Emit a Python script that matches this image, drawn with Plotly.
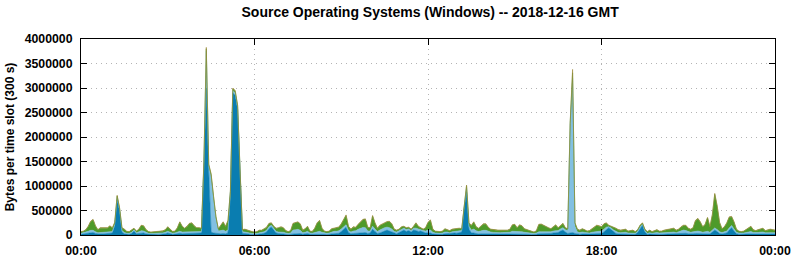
import pandas as pd
import plotly.graph_objects as go

# ---- data (values in thousands of bytes per 5-minute slot) ----
UNIT = 1000
START = "2018-12-16 00:00"
END = "2018-12-17 00:00"
N_SLOTS = 289

dark_blue = [
    15, 20, 25, 35, 45, 50, 30, 20, 20, 20, 25, 20, 30, 40, 190, 720, 490, 60, 25, 15,
    15, 30, 80, 25, 30, 45, 40, 20, 15, 12, 12, 15, 12, 15, 18, 25, 40, 25, 15, 18,
    25, 35, 25, 25, 30, 30, 30, 25, 25, 25, 40, 1400, 3000, 1300, 60, 40, 30, 20, 25, 30,
    25, 40, 820, 2900, 2850, 2560, 1270, 35, 30, 20, 15, 12, 10, 12, 20, 25, 35, 60, 130, 165,
    100, 40, 30, 30, 25, 15, 12, 15, 30, 30, 35, 30, 15, 20, 30, 15, 15, 20, 25, 30,
    20, 15, 12, 15, 25, 30, 30, 35, 70, 120, 160, 50, 25, 30, 30, 35, 40, 45, 50, 30,
    40, 120, 70, 30, 40, 60, 90, 100, 80, 60, 30, 25, 50, 80, 100, 70, 90, 60, 100, 90,
    70, 80, 60, 40, 40, 40, 20, 15, 12, 12, 15, 25, 30, 20, 30, 40, 35, 50, 60, 540,
    880, 120, 40, 40, 25, 20, 25, 25, 25, 20, 20, 18, 18, 18, 18, 20, 20, 20, 20, 30,
    30, 25, 30, 25, 20, 18, 15, 12, 10, 15, 25, 25, 25, 20, 25, 30, 40, 40, 50, 80,
    100, 60, 30, 40, 50, 30, 20, 15, 20, 18, 15, 15, 20, 25, 30, 30, 30, 60, 110, 150,
    110, 60, 30, 20, 18, 20, 20, 15, 15, 18, 15, 50, 140, 200, 60, 15, 20, 15, 18, 20,
    15, 15, 18, 20, 20, 20, 25, 18, 25, 35, 40, 35, 25, 20, 25, 30, 30, 25, 20, 25,
    30, 20, 60, 100, 70, 30, 20, 25, 40, 100, 150, 80, 25, 15, 12, 15, 20, 25, 30, 20,
    18, 20, 22, 25, 18, 18, 20, 20, 18,
]

light_blue = [
    20, 25, 30, 40, 50, 45, 35, 25, 30, 30, 30, 30, 35, 30, 30, 50, 40, 30, 25, 20,
    20, 25, 25, 20, 30, 40, 40, 30, 20, 20, 20, 20, 20, 22, 25, 30, 35, 30, 22, 25,
    35, 40, 35, 35, 40, 45, 45, 40, 35, 35, 30, 50, 760, 110, 1130, 700, 290, 60, 60, 70,
    50, 60, 40, 50, 50, 45, 40, 30, 30, 25, 25, 20, 18, 20, 25, 25, 30, 35, 40, 35,
    30, 30, 30, 35, 30, 25, 20, 25, 70, 75, 80, 65, 30, 35, 45, 25, 22, 30, 40, 45,
    35, 25, 22, 25, 40, 45, 45, 50, 50, 50, 50, 40, 35, 50, 55, 80, 100, 110, 100, 50,
    40, 60, 50, 40, 60, 70, 60, 60, 70, 60, 40, 35, 35, 40, 40, 40, 35, 30, 40, 50,
    50, 35, 30, 40, 60, 60, 35, 25, 22, 22, 25, 35, 30, 25, 35, 35, 35, 35, 30, 40,
    80, 60, 60, 80, 60, 50, 60, 70, 70, 50, 40, 35, 30, 30, 30, 30, 30, 30, 35, 45,
    45, 40, 45, 40, 35, 30, 25, 22, 20, 25, 40, 40, 40, 35, 35, 35, 40, 45, 40, 45,
    50, 45, 60, 2200, 3150, 150, 40, 35, 40, 35, 25, 25, 35, 40, 45, 45, 45, 60, 50, 20,
    35, 40, 40, 30, 30, 30, 35, 25, 25, 28, 20, 25, 25, 20, 25, 20, 25, 20, 25, 30,
    25, 25, 28, 30, 30, 35, 35, 30, 40, 55, 60, 55, 40, 35, 40, 50, 50, 45, 35, 40,
    45, 35, 40, 45, 40, 35, 30, 35, 40, 45, 45, 40, 30, 25, 22, 25, 30, 35, 40, 30,
    28, 30, 35, 35, 28, 30, 32, 30, 30,
]

green = [
    27, 27, 47, 95, 175, 213, 115, 57, 90, 95, 85, 90, 115, 70, 30, 28, 20, 52, 62, 34,
    29, 37, 27, 29, 52, 105, 100, 52, 29, 22, 27, 29, 22, 27, 36, 47, 85, 57, 32, 31,
    82, 185, 112, 72, 100, 155, 165, 115, 82, 82, 62, 35, 40, 25, 40, 45, 50, 42, 105, 158,
    95, 188, 28, 30, 30, 30, 28, 37, 52, 47, 44, 32, 27, 32, 47, 42, 57, 55, 60, 40,
    42, 62, 82, 95, 87, 44, 32, 44, 130, 140, 143, 125, 47, 67, 95, 34, 32, 82, 175, 213,
    77, 34, 30, 34, 57, 57, 67, 70, 100, 148, 185, 82, 52, 80, 65, 95, 118, 153, 168, 72,
    62, 205, 120, 62, 90, 90, 90, 103, 118, 100, 42, 32, 27, 42, 30, 32, 27, 22, 30, 100,
    50, 27, 22, 62, 150, 198, 57, 34, 30, 30, 34, 62, 42, 39, 47, 47, 52, 47, 32, 28,
    45, 60, 90, 138, 77, 62, 85, 125, 125, 82, 52, 49, 46, 46, 46, 44, 52, 44, 57, 125,
    135, 77, 125, 115, 67, 54, 44, 30, 25, 44, 145, 150, 125, 97, 82, 57, 82, 115, 52, 65,
    80, 37, 32, 35, 110, 60, 52, 44, 62, 49, 34, 44, 67, 95, 115, 105, 87, 100, 80, 22,
    27, 62, 62, 52, 46, 52, 57, 34, 44, 48, 29, 27, 27, 22, 27, 29, 47, 29, 41, 52,
    34, 34, 46, 52, 62, 67, 72, 46, 47, 70, 90, 100, 67, 57, 77, 208, 248, 190, 107, 145,
    273, 107, 305, 685, 475, 185, 72, 102, 160, 213, 173, 140, 57, 34, 30, 34, 52, 82, 100, 52,
    38, 52, 65, 72, 38, 46, 60, 52, 46,
]

other = [
    8, 8, 8, 10, 10, 12, 10, 8, 10, 10, 10, 10, 10, 10, 10, 12, 10, 8, 8, 6,
    6, 8, 8, 6, 8, 10, 10, 8, 6, 6, 6, 6, 6, 6, 6, 8, 10, 8, 6, 6,
    8, 10, 8, 8, 10, 10, 10, 10, 8, 8, 8, 15, 30, 15, 20, 15, 10, 8, 10, 12,
    10, 12, 12, 20, 20, 15, 12, 8, 8, 8, 6, 6, 5, 6, 8, 8, 8, 10, 10, 10,
    8, 8, 8, 10, 8, 6, 6, 6, 10, 10, 12, 10, 8, 8, 10, 6, 6, 8, 10, 12,
    8, 6, 6, 6, 8, 8, 8, 10, 10, 12, 15, 8, 8, 10, 10, 10, 12, 12, 12, 8,
    8, 15, 10, 8, 10, 10, 10, 12, 12, 10, 8, 8, 8, 8, 10, 8, 8, 8, 10, 10,
    10, 8, 8, 8, 10, 12, 8, 6, 6, 6, 6, 8, 8, 6, 8, 8, 8, 8, 8, 12,
    15, 10, 10, 12, 8, 8, 10, 10, 10, 8, 8, 8, 6, 6, 6, 6, 8, 6, 8, 10,
    10, 8, 10, 10, 8, 8, 6, 6, 5, 6, 10, 10, 10, 8, 8, 8, 8, 10, 8, 10,
    10, 8, 8, 25, 70, 10, 8, 6, 8, 8, 6, 6, 8, 10, 10, 10, 8, 10, 10, 8,
    8, 8, 8, 8, 6, 8, 8, 6, 6, 6, 6, 8, 8, 8, 8, 6, 8, 6, 6, 8,
    6, 6, 8, 8, 8, 8, 8, 6, 8, 10, 10, 10, 8, 8, 8, 12, 12, 10, 8, 10,
    12, 8, 15, 20, 15, 10, 8, 8, 10, 12, 12, 10, 8, 6, 6, 6, 8, 8, 10, 8,
    6, 8, 8, 8, 6, 6, 8, 8, 6,
]

x_tick_vals = ["2018-12-16 00:00", "2018-12-16 06:00", "2018-12-16 12:00",
               "2018-12-16 18:00", "2018-12-17 00:00"]
x_tick_text = ["00:00", "06:00", "12:00", "18:00", "00:00"]
y_tick_vals = [0, 500000, 1000000, 1500000, 2000000, 2500000, 3000000, 3500000, 4000000]

series_names = ["Windows (a)", "Windows (b)", "Windows (c)", "Windows (d)"]
series_values = [dark_blue, light_blue, green, other]
series_colors = ["#0a7db0", "#82c0e2", "#4e9a2a", "#9a8636"]

times = pd.date_range(START, periods=N_SLOTS, freq="5min")

fig = go.Figure()
for name, vals, col in zip(series_names, series_values, series_colors):
    fig.add_trace(go.Scatter(
        x=times, y=[v * UNIT for v in vals], name=name,
        mode="lines", stackgroup="one",
        line=dict(width=0.6, color=col), fillcolor=col,
        hoverinfo="x+y",
    ))

FONT = "Liberation Sans, Arial, sans-serif"
TICKFONT = dict(family=FONT, size=12.3, color="black", weight="bold")
GRID = dict(showgrid=True, gridcolor="#b4b4b4", griddash="1px,4px", gridwidth=1)
fig.update_layout(
    width=795, height=260,
    margin=dict(l=81, r=20, t=39, b=25, autoexpand=False),
    paper_bgcolor="white", plot_bgcolor="white",
    showlegend=False,
    font=dict(family=FONT, size=12, color="black"),
    title=dict(
        text="<b>Source Operating Systems (Windows) -- 2018-12-16 GMT</b>",
        x=0.541, xref="container", xanchor="center",
        y=1 - 12 / 260, yref="container", yanchor="middle",
        font=dict(family=FONT, size=14, color="black"),
    ),
    xaxis=dict(
        type="date", range=[START, END], automargin=False,
        tickvals=x_tick_vals, ticktext=x_tick_text,
        tickfont=TICKFONT, ticklabelstandoff=4,
        ticks="inside", ticklen=6, tickcolor="black",
        showline=True, linecolor="black", linewidth=1, mirror="ticks",
        zeroline=False, **GRID,
    ),
    yaxis=dict(
        range=[0, 4000000], tickvals=y_tick_vals, tickformat="d", automargin=False,
        tickfont=TICKFONT, ticklabelstandoff=5,
        ticks="inside", ticklen=6, tickcolor="black",
        showline=True, linecolor="black", linewidth=1, mirror="ticks",
        zeroline=False, **GRID,
        title=dict(text="<b>Bytes per time slot (300 s)</b>",
                   font=dict(family=FONT, size=12, color="black"), standoff=7),
    ),
)

fig.write_html("out.html")
